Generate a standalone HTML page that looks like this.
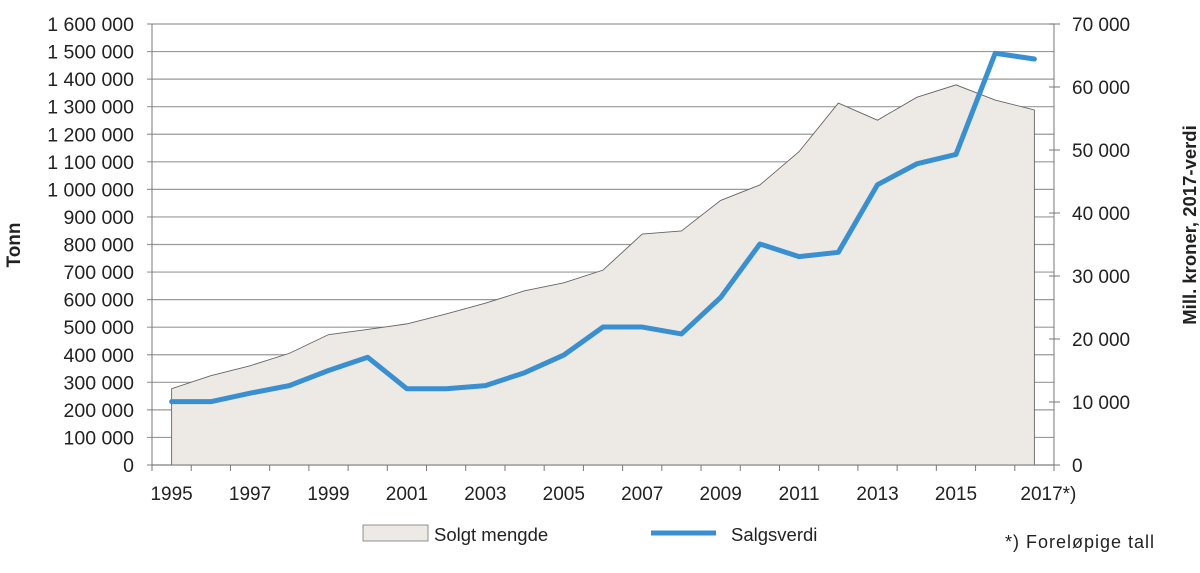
<!DOCTYPE html>
<html><head><meta charset="utf-8"><style>
body{margin:0;background:#fff;}
svg text{font-family:"Liberation Sans",sans-serif;fill:#222;}
</style></head><body>
<svg id="chart" width="1200" height="568" xmlns="http://www.w3.org/2000/svg">
<g id="grid"></g>
<g id="area"></g>
<g id="axes"></g>
<g id="line"></g>
<text transform="translate(20,245) rotate(-90)" text-anchor="middle" font-size="19" font-weight="bold">Tonn</text>
<text transform="translate(1196,225) rotate(-90)" text-anchor="middle" font-size="18.5" font-weight="bold">Mill. kroner, 2017-verdi</text>
<g>
<rect x="363" y="525" width="65" height="16" fill="#edeae6" stroke="#777" stroke-width="0.8"/>
<text x="434" y="541" font-size="18.5">Solgt mengde</text>
<line x1="651" y1="533" x2="716" y2="533" stroke="#3a8fd0" stroke-width="5"/>
<text x="731" y="541" font-size="18.5">Salgsverdi</text>
</g>
<text x="1005" y="548" font-size="18" letter-spacing="1">*) Foreløpige tall</text>
</svg>
<script>
const years=[1995,1996,1997,1998,1999,2000,2001,2002,2003,2004,2005,2006,2007,2008,2009,2010,2011,2012,2013,2014,2015,2016,2017];
const yearLabels=["1995","","1997","","1999","","2001","","2003","","2005","","2007","","2009","","2011","","2013","","2015","","2017*)"];
const tonnes=[277000,324000,360000,405000,473000,492000,512000,548000,587000,632000,661000,707000,838000,849000,960000,1016000,1137000,1313000,1251000,1334000,1379000,1324000,1288000];
const value=[10050,10050,11400,12600,15000,17100,12100,12100,12600,14650,17450,21900,21900,20800,26600,35080,33070,33760,44500,47800,49300,65350,64450];
const leftTicks=[0,100000,200000,300000,400000,500000,600000,700000,800000,900000,1000000,1100000,1200000,1300000,1400000,1500000,1600000];
const rightTicks=[0,10000,20000,30000,40000,50000,60000,70000];
const X0=152,X1=1054,Y0=465,Y1=24,NS="http://www.w3.org/2000/svg";
const step=(X1-X0)/years.length;
const xs=i=>X0+step*(i+0.5);
const yl=v=>Y0-(v/1600000)*(Y0-Y1);
const yr=v=>Y0-(v/70000)*(Y0-Y1);
const fmt=v=>String(v).replace(/\B(?=(\d{3})+(?!\d))/g," ");
function mk(t,a,p){const e=document.createElementNS(NS,t);for(const k in a)e.setAttribute(k,a[k]);p.appendChild(e);return e;}
const grid=document.getElementById('grid'),axes=document.getElementById('axes');
leftTicks.forEach(v=>{const y=yl(v);
 const g=mk('line',{x1:147,x2:X1,y1:y,y2:y,stroke:'#999','stroke-width':1.2},grid);
 
 
 const t=mk('text',{x:134,y:y+7,'text-anchor':'end','font-size':19.5},axes);t.textContent=fmt(v);
 
 });
rightTicks.forEach(v=>{const y=yr(v);
 mk('line',{x1:X1-5,x2:X1+6,y1:y,y2:y,stroke:'#777'},axes);
 const t=mk('text',{x:1072,y:y+7,'font-size':19},axes);t.textContent=fmt(v);
 
 });
mk('line',{x1:X0,x2:X0,y1:Y1,y2:Y0+5,stroke:'#777'},axes);
mk('line',{x1:X1,x2:X1,y1:Y1,y2:Y0+5,stroke:'#777'},axes);
mk('line',{x1:X0,x2:X1,y1:Y0,y2:Y0,stroke:'#777'},axes);
for(let i=0;i<=years.length;i++){const x=X0+step*i;mk('line',{x1:x,x2:x,y1:Y0,y2:Y0+6,stroke:'#777'},axes);}
years.forEach((yv,i)=>{if(!yearLabels[i])return;const t=mk('text',{x:xs(i)+(i==22?14:0),y:500,'text-anchor':'middle','font-size':19},axes);t.textContent=yearLabels[i];
 
 });
let d='M'+xs(0)+','+Y0;tonnes.forEach((v,i)=>d+=' L'+xs(i)+','+yl(v));d+=' L'+xs(tonnes.length-1)+','+Y0+' Z';
const a=mk('path',{d:d,fill:'#edeae6',stroke:'#666','stroke-width':0.9},document.getElementById('area'));


const l=mk('polyline',{points:value.map((v,i)=>xs(i)+','+yr(v)).join(' '),fill:'none',stroke:'#3a8fd0','stroke-width':5,'stroke-linecap':'round','stroke-linejoin':'round'},document.getElementById('line'));


</script>
</body></html>
